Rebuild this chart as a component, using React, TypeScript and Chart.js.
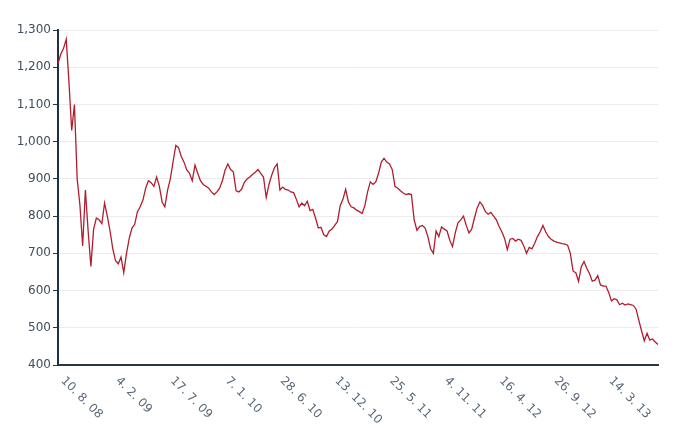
import React, { useEffect, useRef } from "react";
import { Chart, registerables } from "chart.js";

Chart.register(...registerables);

// Index series (roughly one point per ~6 trading days), Aug 2008 – May 2013
const values: number[] = [
  1210, 1235, 1250, 1275, 1160, 1030, 1100, 900, 830, 720,
  870, 760, 665, 765, 795, 790, 780, 835, 800, 760,
  712, 680, 672, 690, 648, 700, 740, 768, 778, 812,
  825, 843, 875, 895, 890, 880, 905, 880, 838, 825,
  870, 900, 946, 990, 984, 960, 945, 924, 915, 895,
  937, 915, 895, 885, 880, 875, 865, 858, 865, 875,
  895, 924, 940, 925, 919, 868, 865, 872, 890, 900,
  905, 912, 918, 925, 915, 905, 850, 885, 910, 930,
  940, 870, 878, 872, 870, 865, 863, 845, 825, 835,
  828, 840, 815, 818, 795, 768, 770, 750, 745, 760,
  765, 775, 785, 828, 845, 872, 838, 825, 822, 816,
  812, 807, 828, 865, 892, 885, 892, 915, 945, 955,
  945, 940, 925, 880, 875, 868, 862, 858, 860, 858,
  790, 762, 772, 775, 768, 745, 712, 700, 760, 745,
  771, 765, 760, 735, 718, 755, 782, 790, 800, 775,
  755, 765, 795, 822, 838, 828, 812, 805, 810, 800,
  790, 772, 758, 740, 710, 738, 740, 733, 738, 735,
  720, 700, 716, 712, 727, 745, 758, 775, 758, 745,
  738, 733, 730, 728, 726, 725, 722, 700, 652, 648,
  625, 664, 678, 660, 646, 625, 628, 640, 615, 612,
  612, 595, 572, 578, 575, 562, 566, 561, 564, 562,
  560, 550, 520, 492, 465, 485, 467, 470, 462, 455,
];

const dateLabels: string[] = [
  "10. 8. 08", "4. 2. 09", "17. 7. 09", "7. 1. 10", "28. 6. 10", "13. 12. 10",
  "25. 5. 11", "4. 11. 11", "16. 4. 12", "26. 9. 12", "14. 3. 13",
];
// index into values where each date label sits
const labelIndex: number[] = [1, 21, 41, 61, 81, 101, 121, 141, 161, 181, 201];

const yMin = 400;
const yMax = 1300;
const yStep = 100;

const xLabelPlugin = {
  id: "xDateLabels",
  afterDraw(chart: any) {
    const ctx = chart.ctx;
    const xs = chart.scales.x;
    const bottom = chart.chartArea.bottom;
    ctx.save();
    ctx.font = '12px "DejaVu Sans"';
    ctx.fillStyle = "#5a6878";
    ctx.textAlign = "left";
    ctx.textBaseline = "middle";
    labelIndex.forEach((idx, k) => {
      const x = xs.getPixelForValue(idx);
      ctx.save();
      ctx.translate(x + 2, bottom + 14);
      ctx.rotate(Math.PI / 4);
      ctx.fillText(dateLabels[k], 0, 0);
      ctx.restore();
    });
    ctx.restore();
  },
};

export default function App() {
  const ref = useRef<HTMLCanvasElement | null>(null);
  useEffect(() => {
    if (!ref.current) return;
    const chart = new Chart(ref.current, {
      type: "line",
      data: {
        labels: values.map((_, i) => String(i)),
        datasets: [
          {
            data: values,
            borderColor: "#b01e2e",
            borderWidth: 1.3,
            pointRadius: 0,
            tension: 0,
            fill: false,
          },
        ],
      },
      options: {
        animation: false,
        responsive: false,
        maintainAspectRatio: false,
        layout: { padding: { top: 30, right: 30, left: 0, bottom: 0 } },
        plugins: { legend: { display: false }, tooltip: { enabled: false } },
        scales: {
          x: {
            type: "category",
            offset: false,
            ticks: { display: false },
            grid: { display: true, color: "rgba(0,0,0,0)", drawTicks: false },
            border: { display: true, color: "#24384a", width: 2 },
            afterFit: (s: any) => {
              s.height = 68;
            },
          },
          y: {
            min: yMin,
            max: yMax,
            ticks: {
              stepSize: yStep,
              color: "#3f4d5c",
              font: { family: "DejaVu Sans", size: 12 },
              padding: 2,
              callback: (v: any) => Number(v).toLocaleString("en-US"),
            },
            grid: { color: "#ececec", tickColor: "#24384a", tickLength: 5, lineWidth: 1 },
            border: { display: true, color: "#1e3244", width: 2 },
            afterFit: (s: any) => {
              s.width = 58;
            },
          },
        },
      },
      plugins: [xLabelPlugin],
    });
    return () => chart.destroy();
  }, []);
  return (
    <div style={{ position: "fixed", left: 0, top: 0, width: 688, height: 433, background: "#fff" }}>
      <canvas ref={ref} width={688} height={433} />
    </div>
  );
}
